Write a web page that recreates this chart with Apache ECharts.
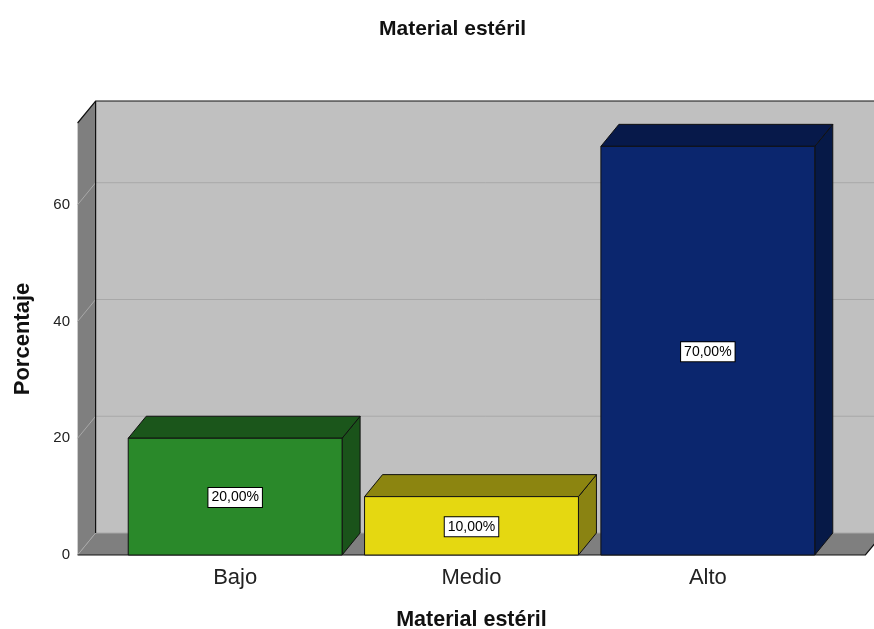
<!DOCTYPE html>
<html>
<head>
<meta charset="utf-8">
<script src="https://cdn.jsdelivr.net/npm/echarts@6/dist/echarts.min.js"></script>
<style>
  html, body { margin: 0; padding: 0; background: #ffffff; }
  #chart { width: 874px; height: 629px; }
</style>
</head>
<body>
<div id="chart"></div>
<script>
// Chart data
const categories = ['Bajo', 'Medio', 'Alto'];
const percentages = [20, 10, 70];
const yTicks = [0, 20, 40, 60];
const yMax = 74;

// Face colours for each bar: [front, top, side]
const barColors = [
  ['#2a892a', '#1b561b', '#1a531a'],
  ['#e5d811', '#8c8510', '#8a8312'],
  ['#0b266e', '#07194a', '#061947']
];

// 3D depth offset (pixels)
const DX = 18, DY = -22;
const FONT = '"Liberation Sans", Arial, sans-serif';

function fmtPct(v) {
  return v.toFixed(2).replace('.', ',') + '%';
}

function renderWalls(params, api) {
  const cs = params.coordSys;
  const band = api.size([1, 0])[0];
  const pad = band / 6;
  const xl = cs.x - pad;
  const xr = cs.x + cs.width + pad;
  const yt = api.coord([0, yMax])[1];
  const yb = api.coord([0, 0])[1];
  const children = [];
  // back wall
  children.push({ type: 'polygon', shape: { points: [[xl + DX, yt + DY], [xr + DX, yt + DY], [xr + DX, yb + DY], [xl + DX, yb + DY]] },
    style: { fill: '#c0c0c0' } });
  // left wall
  children.push({ type: 'polygon', shape: { points: [[xl, yt], [xl + DX, yt + DY], [xl + DX, yb + DY], [xl, yb]] },
    style: { fill: '#7f7f7f' } });
  // floor
  children.push({ type: 'polygon', shape: { points: [[xl, yb], [xl + DX, yb + DY], [xr + DX, yb + DY], [xr, yb]] },
    style: { fill: '#7f7f7f' } });
  // grid lines across left wall and back wall
  yTicks.forEach(function (v) {
    const y = api.coord([0, v])[1];
    children.push({ type: 'polyline', shape: { points: [[xl, y], [xl + DX, y + DY], [xr + DX, y + DY]] },
      style: { stroke: '#a8a8a8', lineWidth: 1, fill: null } });
  });
  // outline edges
  children.push({ type: 'polyline', shape: { points: [[xl, yt], [xl + DX, yt + DY], [xr + DX, yt + DY]] },
    style: { stroke: '#111', lineWidth: 1.2, fill: null } });
  children.push({ type: 'line', shape: { x1: xl + DX, y1: yt + DY, x2: xl + DX, y2: yb + DY },
    style: { stroke: '#111', lineWidth: 1.2 } });
  children.push({ type: 'polyline', shape: { points: [[xl, yb], [xr, yb], [xr + DX, yb + DY]] },
    style: { stroke: '#111', lineWidth: 1.2, fill: null } });
  return { type: 'group', children: children };
}

function renderBar(params, api) {
  const idx = api.value(0);
  const val = api.value(1);
  const band = api.size([1, 0])[0];
  const w = band * 0.905;
  const cx = api.coord([idx, 0])[0];
  const x0 = cx - w / 2, x1 = cx + w / 2;
  const yTop = api.coord([idx, val])[1];
  const yBase = api.coord([idx, 0])[1];
  const c = barColors[params.dataIndex];
  const edge = { stroke: '#111', lineWidth: 1 };
  return {
    type: 'group',
    children: [
      { type: 'polygon', shape: { points: [[x1, yTop], [x1 + DX, yTop + DY], [x1 + DX, yBase + DY], [x1, yBase]] },
        style: Object.assign({ fill: c[2] }, edge) },
      { type: 'polygon', shape: { points: [[x0, yTop], [x0 + DX, yTop + DY], [x1 + DX, yTop + DY], [x1, yTop]] },
        style: Object.assign({ fill: c[1] }, edge) },
      { type: 'rect', shape: { x: x0, y: yTop, width: w, height: yBase - yTop },
        style: Object.assign({ fill: c[0] }, edge) },
      { type: 'text', x: cx, y: (yTop + yBase) / 2 + 1,
        style: { text: fmtPct(val), fill: '#000', font: '14px ' + FONT,
          align: 'center', verticalAlign: 'middle',
          backgroundColor: '#ffffff', borderColor: '#000', borderWidth: 1,
          padding: [3, 3, 2, 3] } }
    ]
  };
}

const chart = echarts.init(document.getElementById('chart'), null, { renderer: 'canvas' });
chart.setOption({
  animation: false,
  backgroundColor: '#ffffff',
  title: {
    text: 'Material estéril',
    left: 374,
    top: 14,
    textStyle: { fontFamily: FONT, fontSize: 21, fontWeight: 'bold', color: '#111' }
  },
  grid: { left: 117, width: 709, top: 123, height: 432, containLabel: false, outerBoundsMode: 'none' },
  xAxis: {
    type: 'category',
    data: categories,
    name: 'Material estéril',
    nameLocation: 'middle',
    nameGap: 54,
    nameTextStyle: { fontFamily: FONT, fontSize: 21.5, fontWeight: 'bold', color: '#111' },
    axisLine: { show: false },
    axisTick: { show: false },
    axisLabel: { fontFamily: FONT, fontSize: 22, color: '#222', margin: 12 }
  },
  yAxis: {
    type: 'value',
    min: 0,
    max: yMax,
    interval: 20,
    offset: 40,
    name: 'Porcentaje',
    nameLocation: 'middle',
    nameGap: 43,
    nameTextStyle: { fontFamily: FONT, fontSize: 22, fontWeight: 'bold', color: '#111' },
    axisLine: { show: false },
    axisTick: { show: false },
    splitLine: { show: false },
    axisLabel: { fontFamily: FONT, fontSize: 15, color: '#222', margin: 7,
      padding: [4, 0, 0, 0], showMaxLabel: false }
  },
  series: [
    {
      type: 'custom',
      z: 1,
      renderItem: renderWalls,
      data: [[0, 0]],
      silent: true
    },
    {
      type: 'custom',
      z: 2,
      renderItem: renderBar,
      data: percentages.map(function (v, i) { return [i, v]; })
    }
  ]
});
</script>
</body>
</html>
